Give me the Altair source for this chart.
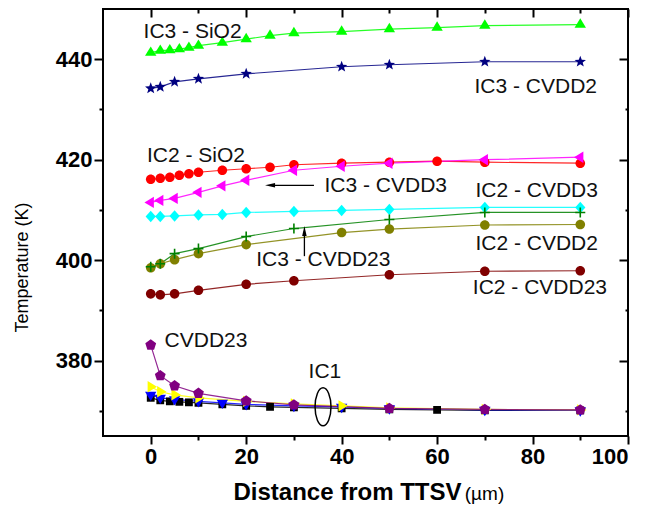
import math
import altair as alt
import pandas as pd

# ---------------- data ----------------
x_sio2 = [0, 2, 4, 6, 8, 10, 15, 20, 25, 30, 40, 50, 60, 70, 90]
x_cvdd3 = [0, 2, 5, 10, 15, 20, 30, 40, 50, 70, 90]
x_cvdd2 = [0, 2, 5, 10, 20, 40, 50, 70, 90]
x_cvdd23 = [0, 2, 5, 10, 20, 30, 50, 70, 90]
x_ic1_cvdd3 = [0, 2, 5, 10, 20, 30, 40, 50, 70, 90]

ic1_sio2 = [372.6, 372.1, 371.9, 371.8, 371.7, 371.6, 371.3, 371.0, 370.8, 370.7, 370.5, 370.3, 370.2, 370.1, 370.1]
ic2_sio2 = [416.1, 416.3, 416.5, 416.9, 417.2, 417.5, 417.9, 418.2, 418.5, 419.0, 419.3, 419.5, 419.7, 419.5, 419.3]
ic3_sio2 = [441.3, 441.7, 441.8, 442.0, 442.3, 442.7, 443.3, 444.0, 444.7, 445.2, 445.5, 446.0, 446.3, 446.7, 446.9]
ic1_cvdd2 = [373.2, 372.6, 372.3, 371.9, 371.6, 371.3, 371.0, 370.8, 370.5, 370.2, 370.1]
ic2_cvdd3 = [408.7, 408.7, 408.8, 409.0, 409.1, 409.5, 409.7, 409.9, 410.1, 410.5, 410.5]
ic3_cvdd3 = [411.5, 411.9, 412.3, 413.5, 414.8, 415.9, 417.9, 418.7, 419.3, 420.0, 420.5]
ic1_cvdd3 = [374.8, 373.8, 373.2, 372.6, 371.9, 371.4, 371.0, 370.6, 370.3, 370.2]
ic2_cvdd2 = [398.5, 399.3, 400.1, 401.3, 403.1, 405.5, 406.2, 407.0, 407.1]
ic3_cvdd2 = [434.2, 434.5, 435.5, 436.1, 437.1, 438.5, 438.9, 439.5, 439.5]
ic1_cvdd23 = [383.1, 377.0, 375.0, 373.5, 372.0, 371.2, 370.5, 370.3, 370.2]
ic2_cvdd23 = [393.3, 393.1, 393.3, 394.0, 395.2, 395.9, 397.1, 397.8, 397.9]
x_ic3_cvdd23 = [0, 2, 5, 10, 20, 30, 50, 70, 90]
ic3_cvdd23 = [398.7, 399.3, 401.3, 402.3, 404.7, 406.3, 408.1, 409.5, 409.5]

series_names = ["IC1 - SiO2", "IC2 - SiO2", "IC3 - SiO2", "IC1 - CVDD2", "IC2 - CVDD3",
                "IC3 - CVDD3", "IC1 - CVDD3", "IC2 - CVDD2", "IC3 - CVDD2", "IC1 - CVDD23",
                "IC2 - CVDD23", "IC3 - CVDD23"]
series_x = [x_sio2, x_sio2, x_sio2, x_cvdd3, x_cvdd3, x_cvdd3, x_ic1_cvdd3, x_cvdd2, x_cvdd2,
            x_cvdd23, x_cvdd23, x_ic3_cvdd23]
series_y = [ic1_sio2, ic2_sio2, ic3_sio2, ic1_cvdd2, ic2_cvdd3, ic3_cvdd3, ic1_cvdd3, ic2_cvdd2,
            ic3_cvdd2, ic1_cvdd23, ic2_cvdd23, ic3_cvdd23]
series_colors = ["#000000", "#ff0000", "#00ff00", "#0000ff", "#00ffff", "#ff00ff", "#ffff00",
                 "#808000", "#000080", "#800080", "#800000", "#008000"]

# annotation texts
lab_text = ["IC3 - SiO2", "IC3 - CVDD2", "IC2 - SiO2", "IC3 - CVDD3", "IC2 - CVDD3",
            "IC2 - CVDD2", "IC3 - CVDD23", "IC2 - CVDD23", "CVDD23", "IC1"]
lab_x = [-1.5, 93.5, -0.8, 36.4, 93.7, 93.7, 22.1, 95.6, 2.9, 36.5]
lab_y = [445.4, 434.4, 420.7, 414.7, 413.7, 403.3, 400.0, 394.5, 384.0, 377.8]
lab_align = ["left", "right", "left", "left", "right", "right", "left", "right", "left", "center"]

# arrows (tail -> head) and IC1 ellipse
arrow_x = [34.2, 32.2]
arrow_x2 = [25.0, 32.2]
arrow_y = [414.9, 400.8]
arrow_y2 = [414.9, 405.8]
arrow_dir = ["left", "up"]
ellipse_x = [36.1]
ellipse_y = [370.8]

# ---------------- marker shapes (unit square paths) ----------------
def poly(pts):
    return "M" + "L".join(f"{px:.3f},{py:.3f}" for px, py in pts) + "Z"

def circle_path(r):
    return f"M{r},0A{r},{r} 0 1,1 {-r},0A{r},{r} 0 1,1 {r},0Z"

def star_path(ro, ri):
    pts = []
    for k in range(10):
        a = math.radians(-90 + 36 * k)
        r = ro if k % 2 == 0 else ri
        pts.append((r * math.cos(a), r * math.sin(a)))
    return poly(pts)

def ngon(n, r):
    return poly([(r * math.cos(math.radians(-90 + 360 / n * k)), r * math.sin(math.radians(-90 + 360 / n * k))) for k in range(n)])

tri = 0.95
tri_up = poly([(0, -1.1 * tri), (tri, 0.55 * tri), (-tri, 0.55 * tri)])
tri_down = poly([(0, 1.1 * tri), (tri, -0.55 * tri), (-tri, -0.55 * tri)])
tri_left = poly([(-1.1 * tri, 0), (0.55 * tri, -tri), (0.55 * tri, tri)])
tri_right = poly([(1.1 * tri, 0), (-0.55 * tri, -tri), (-0.55 * tri, tri)])
square = poly([(-0.65, -0.65), (0.65, -0.65), (0.65, 0.65), (-0.65, 0.65)])
diamond = poly([(0, -0.95), (0.85, 0), (0, 0.95), (-0.85, 0)])
circ = circle_path(0.8)
star = star_path(1.0, 0.42)
penta = ngon(5, 0.95)
plus_path = "M-1,0L1,0M0,-1L0,1"
ellipse_path = "M0,-1A0.42,1 0 1,1 0,1A0.42,1 0 1,1 0,-1Z"

series_shapes = [square, circ, tri_up, tri_down, diamond, tri_left, tri_right, circ, star,
                 penta, circ, plus_path]

# ---------------- tables ----------------
rows = []
for order, (nm, xs, ys) in enumerate(zip(series_names, series_x, series_y)):
    for xv, yv in zip(xs, ys):
        rows.append({"series": nm, "x": xv, "y": yv, "o": order})
df = pd.DataFrame(rows)
labels = pd.DataFrame({"text": lab_text, "x": lab_x, "y": lab_y, "align": lab_align})
arrows = pd.DataFrame({"x": arrow_x, "x2": arrow_x2, "y": arrow_y, "y2": arrow_y2, "dir": arrow_dir})
ell = pd.DataFrame({"x": ellipse_x, "y": ellipse_y})

FONT = "Liberation Sans"
xscale = alt.Scale(domain=[-10, 100], nice=False, zero=False)
yscale = alt.Scale(domain=[365, 450], nice=False, zero=False)
color_scale = alt.Scale(domain=series_names, range=series_colors)
shape_scale = alt.Scale(domain=series_names[:-1], range=series_shapes[:-1])

common = dict(grid=False, domain=False, tickColor="black", tickWidth=2,
              labelFont=FONT, labelFontSize=22, labelFontWeight="bold", labelColor="black",
              titleFont=FONT, titleColor="black")

ax_bottom_major = alt.Axis(orient="bottom", values=[0, 20, 40, 60, 80, 100], tickSize=8,
                           labelPadding=2, title="Distance from TTSV", titleFontSize=24,
                           titleFontWeight="bold", titleX=244, titleY=63,
                           titleBaseline="alphabetic", titleAlign="center", **common)
ax_bottom_minor = alt.Axis(orient="bottom", values=[10, 30, 50, 70, 90], tickSize=4, labels=False,
                           title="(µm)", titleFontSize=19, titleFontWeight="normal",
                           titleX=381, titleY=63, titleBaseline="alphabetic", titleAlign="center",
                           **common)
ax_top_major = alt.Axis(orient="top", values=[0, 20, 40, 60, 80, 100], tickSize=8, offset=-8,
                        labels=False, title=None, **common)
ax_top_minor = alt.Axis(orient="top", values=[10, 30, 50, 70, 90], tickSize=4, offset=-4,
                        labels=False, title=None, **common)
ax_left_major = alt.Axis(orient="left", values=[380, 400, 420, 440], tickSize=9, labelPadding=2,
                         title="Temperature (K)", titleFontSize=18, titleFontWeight="normal",
                         titleX=-81, titleY=258, titleAngle=-90, titleAlign="center",
                         titleBaseline="middle", **common)
ax_left_minor = alt.Axis(orient="left", values=[370, 390, 410, 430], tickSize=4, labels=False,
                         title=None, **common)
ax_right_major = alt.Axis(orient="right", values=[380, 400, 420, 440], tickSize=9, offset=-9,
                          labels=False, title=None, **common)
ax_right_minor = alt.Axis(orient="right", values=[370, 390, 410, 430], tickSize=3, offset=-3,
                          labels=False, title=None, **common)

base = alt.Chart(df)

lines = base.mark_line(strokeWidth=1.2, opacity=0.85).encode(
    x=alt.X("x:Q", scale=xscale, axis=ax_bottom_major),
    y=alt.Y("y:Q", scale=yscale, axis=ax_left_major),
    color=alt.Color("series:N", scale=color_scale, legend=None),
    order=alt.Order("x:Q"),
)

points = base.transform_filter(alt.datum.series != "IC3 - CVDD23").mark_point(
    filled=True, opacity=1, size=144).encode(
    x=alt.X("x:Q", scale=xscale, axis=ax_bottom_minor),
    y=alt.Y("y:Q", scale=yscale, axis=ax_left_minor),
    color=alt.Color("series:N", scale=color_scale, legend=None),
    shape=alt.Shape("series:N", scale=shape_scale, legend=None),
)

plus = base.transform_filter(alt.datum.series == "IC3 - CVDD23").mark_point(
    shape=plus_path, filled=False, size=100, strokeWidth=1.6, color="#008000", opacity=1).encode(
    x=alt.X("x:Q", scale=xscale, axis=ax_top_major),
    y=alt.Y("y:Q", scale=yscale, axis=ax_right_major),
)

lab_base = alt.Chart(labels)
text_layers = []
for i, al in enumerate(["left", "right", "center"]):
    axx = ax_top_minor if i == 0 else None
    axy = ax_right_minor if i == 0 else None
    text_layers.append(
        lab_base.transform_filter(alt.datum.align == al).mark_text(
            align=al, baseline="middle", font=FONT, fontSize=21, color="#111111").encode(
            x=alt.X("x:Q", scale=xscale, axis=axx),
            y=alt.Y("y:Q", scale=yscale, axis=axy),
            text="text:N",
        )
    )

arrow_lines = alt.Chart(arrows).mark_rule(color="black", strokeWidth=1.3).encode(
    x=alt.X("x:Q", scale=xscale, axis=None),
    x2="x2:Q",
    y=alt.Y("y:Q", scale=yscale, axis=None),
    y2="y2:Q",
)
head_left = alt.Chart(arrows).transform_filter(alt.datum.dir == "left").mark_point(
    shape="M-1,0L1,-0.45L1,0.45Z", filled=True, color="black", size=100, opacity=1).encode(
    x=alt.X("x2:Q", scale=xscale, axis=None),
    y=alt.Y("y2:Q", scale=yscale, axis=None),
)
head_up = alt.Chart(arrows).transform_filter(alt.datum.dir == "up").mark_point(
    shape="M0,-1L-0.45,1L0.45,1Z", filled=True, color="black", size=100, opacity=1).encode(
    x=alt.X("x2:Q", scale=xscale, axis=None),
    y=alt.Y("y2:Q", scale=yscale, axis=None),
)
ellipse = alt.Chart(ell).mark_point(
    shape=ellipse_path, filled=False, size=1444, color="black", strokeWidth=1.5, opacity=1).encode(
    x=alt.X("x:Q", scale=xscale, axis=None),
    y=alt.Y("y:Q", scale=yscale, axis=None),
)

chart = alt.layer(
    lines, points, plus, *text_layers, arrow_lines, head_left, head_up, ellipse
).resolve_axis(x="independent", y="independent").properties(
    width=525,
    height=427,
    autosize=alt.AutoSizeParams(type="none"),
    padding={"left": 95, "top": 1, "right": 14, "bottom": 68},
).configure_view(stroke="black", strokeWidth=2)

chart.save("out.html", embed_options={"renderer": "svg", "actions": False})
